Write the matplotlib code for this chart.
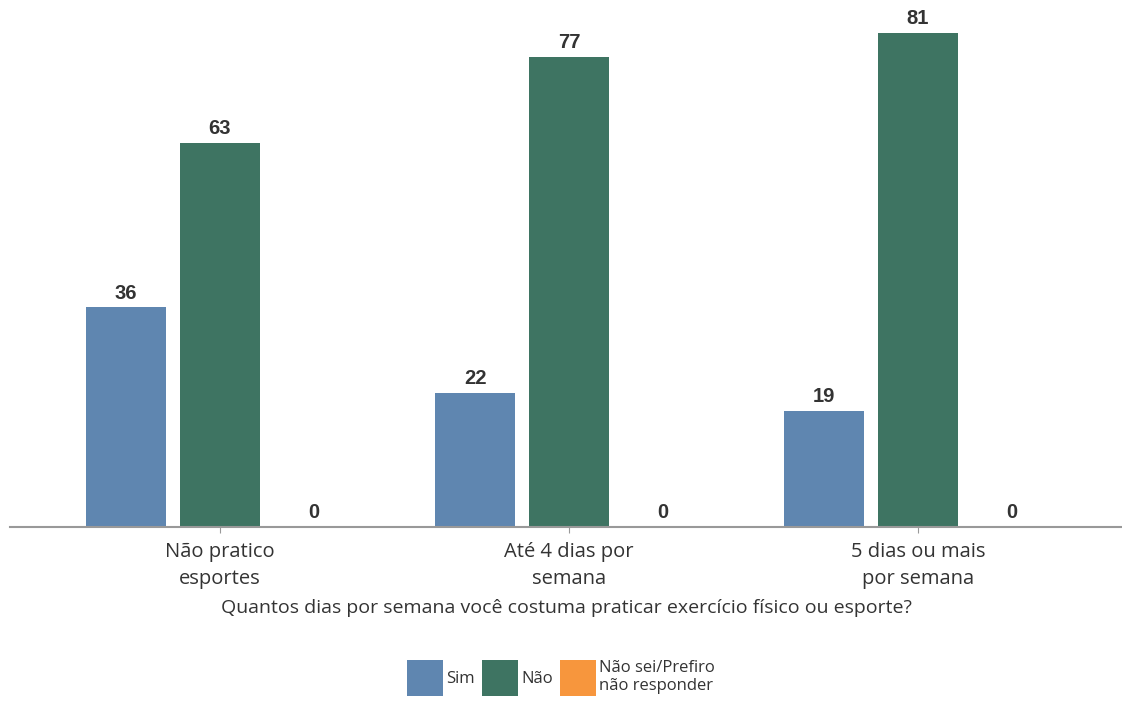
import numpy as np
import matplotlib.pyplot as plt

categories = ["Não pratico\nesportes", "Até 4 dias por\nsemana", "5 dias ou mais\npor semana"]
series_names = ["Sim", "Não", "Não sei/Prefiro\nnão responder"]
sim = [36, 22, 19]
nao = [63, 77, 81]
nao_sei = [0, 0, 0]

colors = ["#5f86b0", "#3e7462", "#f7963d"]
TEXT_FONT = ["Open Sans", "DejaVu Sans"]
NUM_FONT = ["Liberation Sans", "DejaVu Sans"]

W, H = 1122, 702
fig = plt.figure(figsize=(W / 100, H / 100), dpi=100)
# axes in pixel coords: left 10, right 1122, baseline at y=527, top at y=10
ax = fig.add_axes([10 / W, (H - 527) / H, (W - 10) / W, (527 - 10) / H])

x = np.arange(len(categories))
width = 0.229
offset = 0.269
for i, (vals, name) in enumerate(zip([sim, nao, nao_sei], series_names)):
    pos = x + (i - 1) * offset
    bars = ax.bar(pos, vals, width, color=colors[i], label=name)
    for b, v in zip(bars, vals):
        ax.text(b.get_x() + b.get_width() / 2, v + 0.8, str(v),
                ha="center", va="bottom", fontsize=14.5, fontweight="bold",
                color="#333333", family=NUM_FONT)

ax.set_xlim(-0.6015, 2.585)
ax.set_ylim(0, 84.75)
for s in ["top", "right", "left"]:
    ax.spines[s].set_visible(False)
ax.spines["bottom"].set_color("#999999")
ax.spines["bottom"].set_linewidth(1.5)
ax.set_yticks([])
ax.set_xticks(x)
ax.set_xticklabels(categories, fontsize=14.5, color="#333333", family=TEXT_FONT,
                   linespacing=1.45)
ax.tick_params(axis="x", length=4, color="#999999", pad=7)
ax.set_xlabel("Quantos dias por semana você costuma praticar exercício físico ou esporte?",
              fontsize=14, color="#333333", family=TEXT_FONT, labelpad=7)

leg = fig.legend(loc="center", bbox_to_anchor=(561 / W, (H - 678) / H), ncol=3,
                 frameon=False, handlelength=2.17, handleheight=2.93,
                 handletextpad=0.2, columnspacing=0.4,
                 prop={"family": TEXT_FONT, "size": 12})
for t in leg.get_texts():
    t.set_color("#333333")

fig.savefig("out.png", dpi=100)
